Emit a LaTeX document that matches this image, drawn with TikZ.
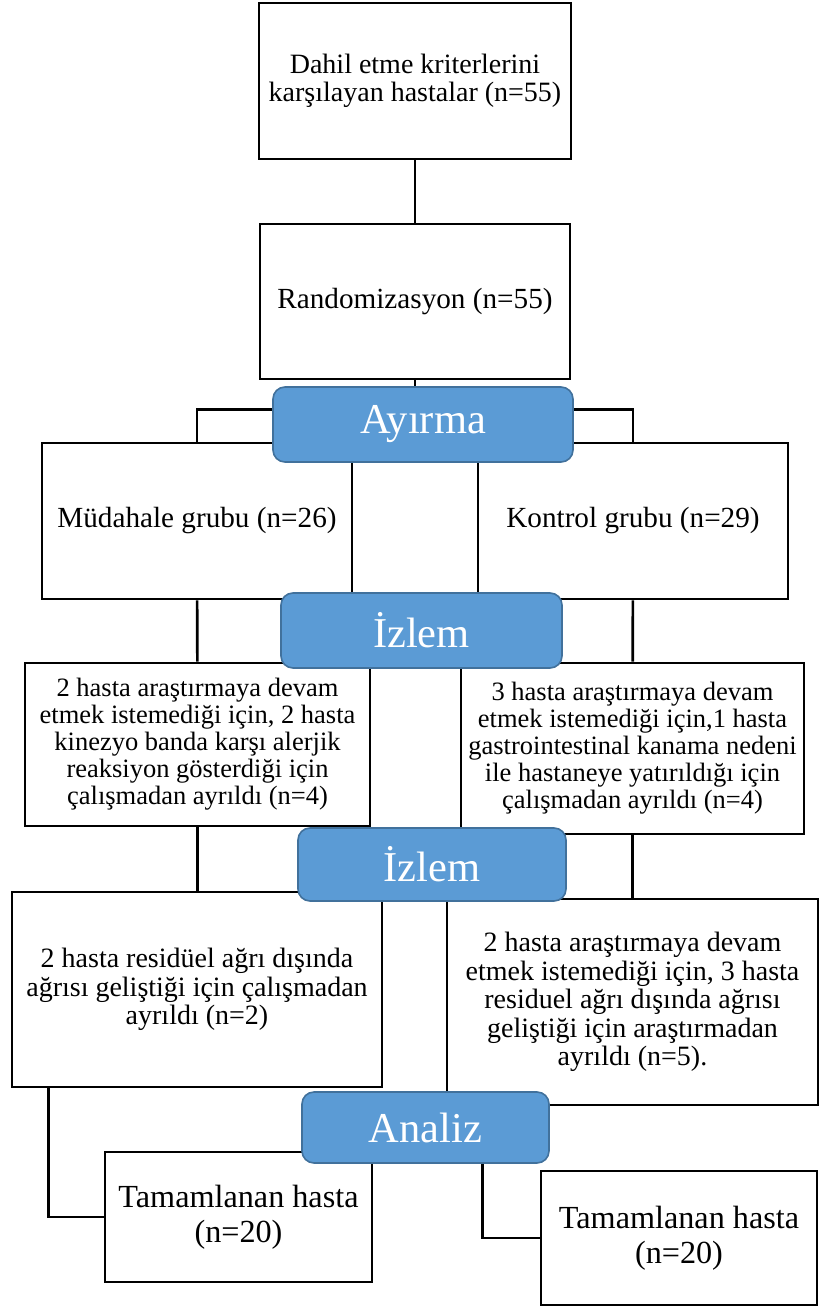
\documentclass[tikz,border=0pt]{standalone}
\usepackage{fontspec}
\setmainfont{Liberation Serif}
\pgfdeclarelayer{background layer}
\pgfsetlayers{background layer,main}
\definecolor{phasefill}{RGB}{91,155,213}
\definecolor{phaseline}{RGB}{65,113,156}

\begin{document}
\begin{tikzpicture}[x=1pt,y=-1pt]
\tikzstyle{box}=[draw=black,line width=2.8pt,fill=white,align=center,inner sep=0pt]
\tikzstyle{boxbig}=[box,font=\fontsize{28}{28.5}\selectfont]
\tikzstyle{boxmid}=[box,font=\fontsize{29.2}{30}\selectfont]
\tikzstyle{boxsmall}=[box,font=\fontsize{26.5}{27}\selectfont]
\tikzstyle{boxend}=[box,font=\fontsize{32.2}{35}\selectfont]
\tikzstyle{phase}=[draw=phaseline,line width=1.6pt,fill=phasefill,rounded corners=12pt,text=white,font=\fontsize{42.5}{44}\selectfont,inner sep=0pt]
\tikzstyle{line}=[line width=2.6pt]
\useasboundingbox (0,0) rectangle (820,1308);
% enrolment
\node [boxbig,minimum width=312pt,minimum height=156pt] at (415,81) (incl) {Dahil etme kriterlerini\\karşılayan hastalar (n=55)};
\node [boxmid,minimum width=310pt,minimum height=155pt] at (415,301.5) (rand) {Randomizasyon (n=55)};
% groups
\node [boxmid,minimum width=310pt,minimum height=156pt] at (197,521) (mud) {Müdahale grubu (n=26)};
\node [boxmid,minimum width=310pt,minimum height=156pt] at (633,521) (kont) {Kontrol grubu (n=29)};
% first follow-up
\node [boxsmall,minimum width=345pt,minimum height=163pt] at (197.5,744.5) (mudcik) {2 hasta araştırmaya devam\\etmek istemediği için, 2 hasta\\kinezyo banda karşı alerjik\\reaksiyon gösterdiği için\\çalışmadan ayrıldı (n=4)};
\node [boxsmall,minimum width=343pt,minimum height=171pt] at (632.5,748.5) (kontcik) {3 hasta araştırmaya devam\\etmek istemediği için,1 hasta\\gastrointestinal kanama nedeni\\ile hastaneye yatırıldığı için\\çalışmadan ayrıldı (n=4)};
% second follow-up
\node [boxbig,minimum width=370pt,minimum height=195pt] at (197,989.5) (mudcik2) {2 hasta residüel ağrı dışında\\ağrısı geliştiği için çalışmadan\\ayrıldı (n=2)};
\node [boxbig,minimum width=371pt,minimum height=206pt] at (632.5,1002) (kontcik2) {2 hasta araştırmaya devam\\etmek istemediği için, 3 hasta\\residuel ağrı dışında ağrısı\\geliştiği için araştırmadan\\ayrıldı (n=5).};
% analysis
\node [boxend,minimum width=267pt,minimum height=130pt] at (238.5,1217) (mudson) {Tamamlanan hasta\\(n=20)};
\node [boxend,minimum width=276pt,minimum height=134pt] at (679,1238) (kontson) {Tamamlanan hasta\\(n=20)};
% phase labels
\node [phase,minimum width=300pt,minimum height=75pt] at (423,424.5) (ayirma) {Ayırma};
\node [phase,minimum width=281pt,minimum height=75pt] at (421.5,630.5) (izlem) {İzlem};
\node [phase,minimum width=268pt,minimum height=73pt] at (432,864.5) (izlemiki) {İzlem};
\node [phase,minimum width=247pt,minimum height=71pt] at (425.5,1127.5) (analiz) {Analiz};
\begin{pgfonlayer}{background layer}
\draw [line] (incl) -- (rand);
\draw [line] (rand.south) -- (rand.south |- ayirma.north);
\draw [line] (mud.north) -- ++(0,-32) -| (kont.north);
\draw [line] (mud) -- (mudcik);
\draw [line] (kont) -- (kontcik);
\draw [line] (mudcik.south) -- (mudcik.south |- mudcik2.north);
\draw [line] (kontcik.south) -- (kontcik.south |- kontcik2.north);
\draw [line] ([xshift=38pt]mudcik2.south west) |- (mudson.west);
\draw [line] ([xshift=37pt]kontcik2.south west) |- (kontson.west);
\end{pgfonlayer}
\end{tikzpicture}
\end{document}
